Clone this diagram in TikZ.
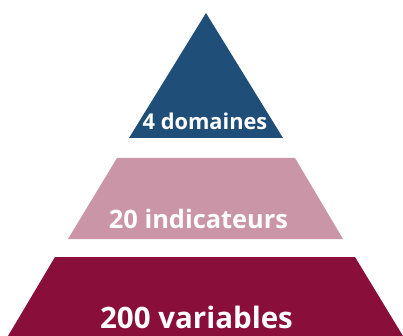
\documentclass[tikz,border=0pt]{standalone}
\usepackage{fontspec}
\setmainfont{Open Sans}
\definecolor{tierblue}{RGB}{31,78,121}
\definecolor{tierpink}{RGB}{203,149,168}
\definecolor{tierred}{RGB}{138,14,58}
\begin{document}
\begin{tikzpicture}[x=1pt,y=-1pt,
  tier/.style={draw=none},
  tierlabel/.style={text=white,font=\bfseries,inner sep=0pt,anchor=base}]
\useasboundingbox (0,0) rectangle (403,336);
% top tier
\fill[tierblue] (206,13) -- (283,138) -- (129,138) -- cycle;
% middle tier
\fill[tierpink] (117,158) -- (295,158) -- (343,239) -- (68,239) -- cycle;
% bottom tier
\fill[tierred] (55,257) -- (355,257) -- (403,336) -- (8,336) -- cycle;
\node[tierlabel,font=\bfseries\fontsize{21.8}{26}\selectfont] (dom) at (205,130) {4 domaines};
\node[tierlabel,font=\bfseries\fontsize{25.4}{30}\selectfont] (ind) at (198.5,228) {20 indicateurs};
\node[tierlabel,font=\bfseries\fontsize{29.5}{35}\selectfont] (var) at (196.5,328) {200 variables};
\end{tikzpicture}
\end{document}
